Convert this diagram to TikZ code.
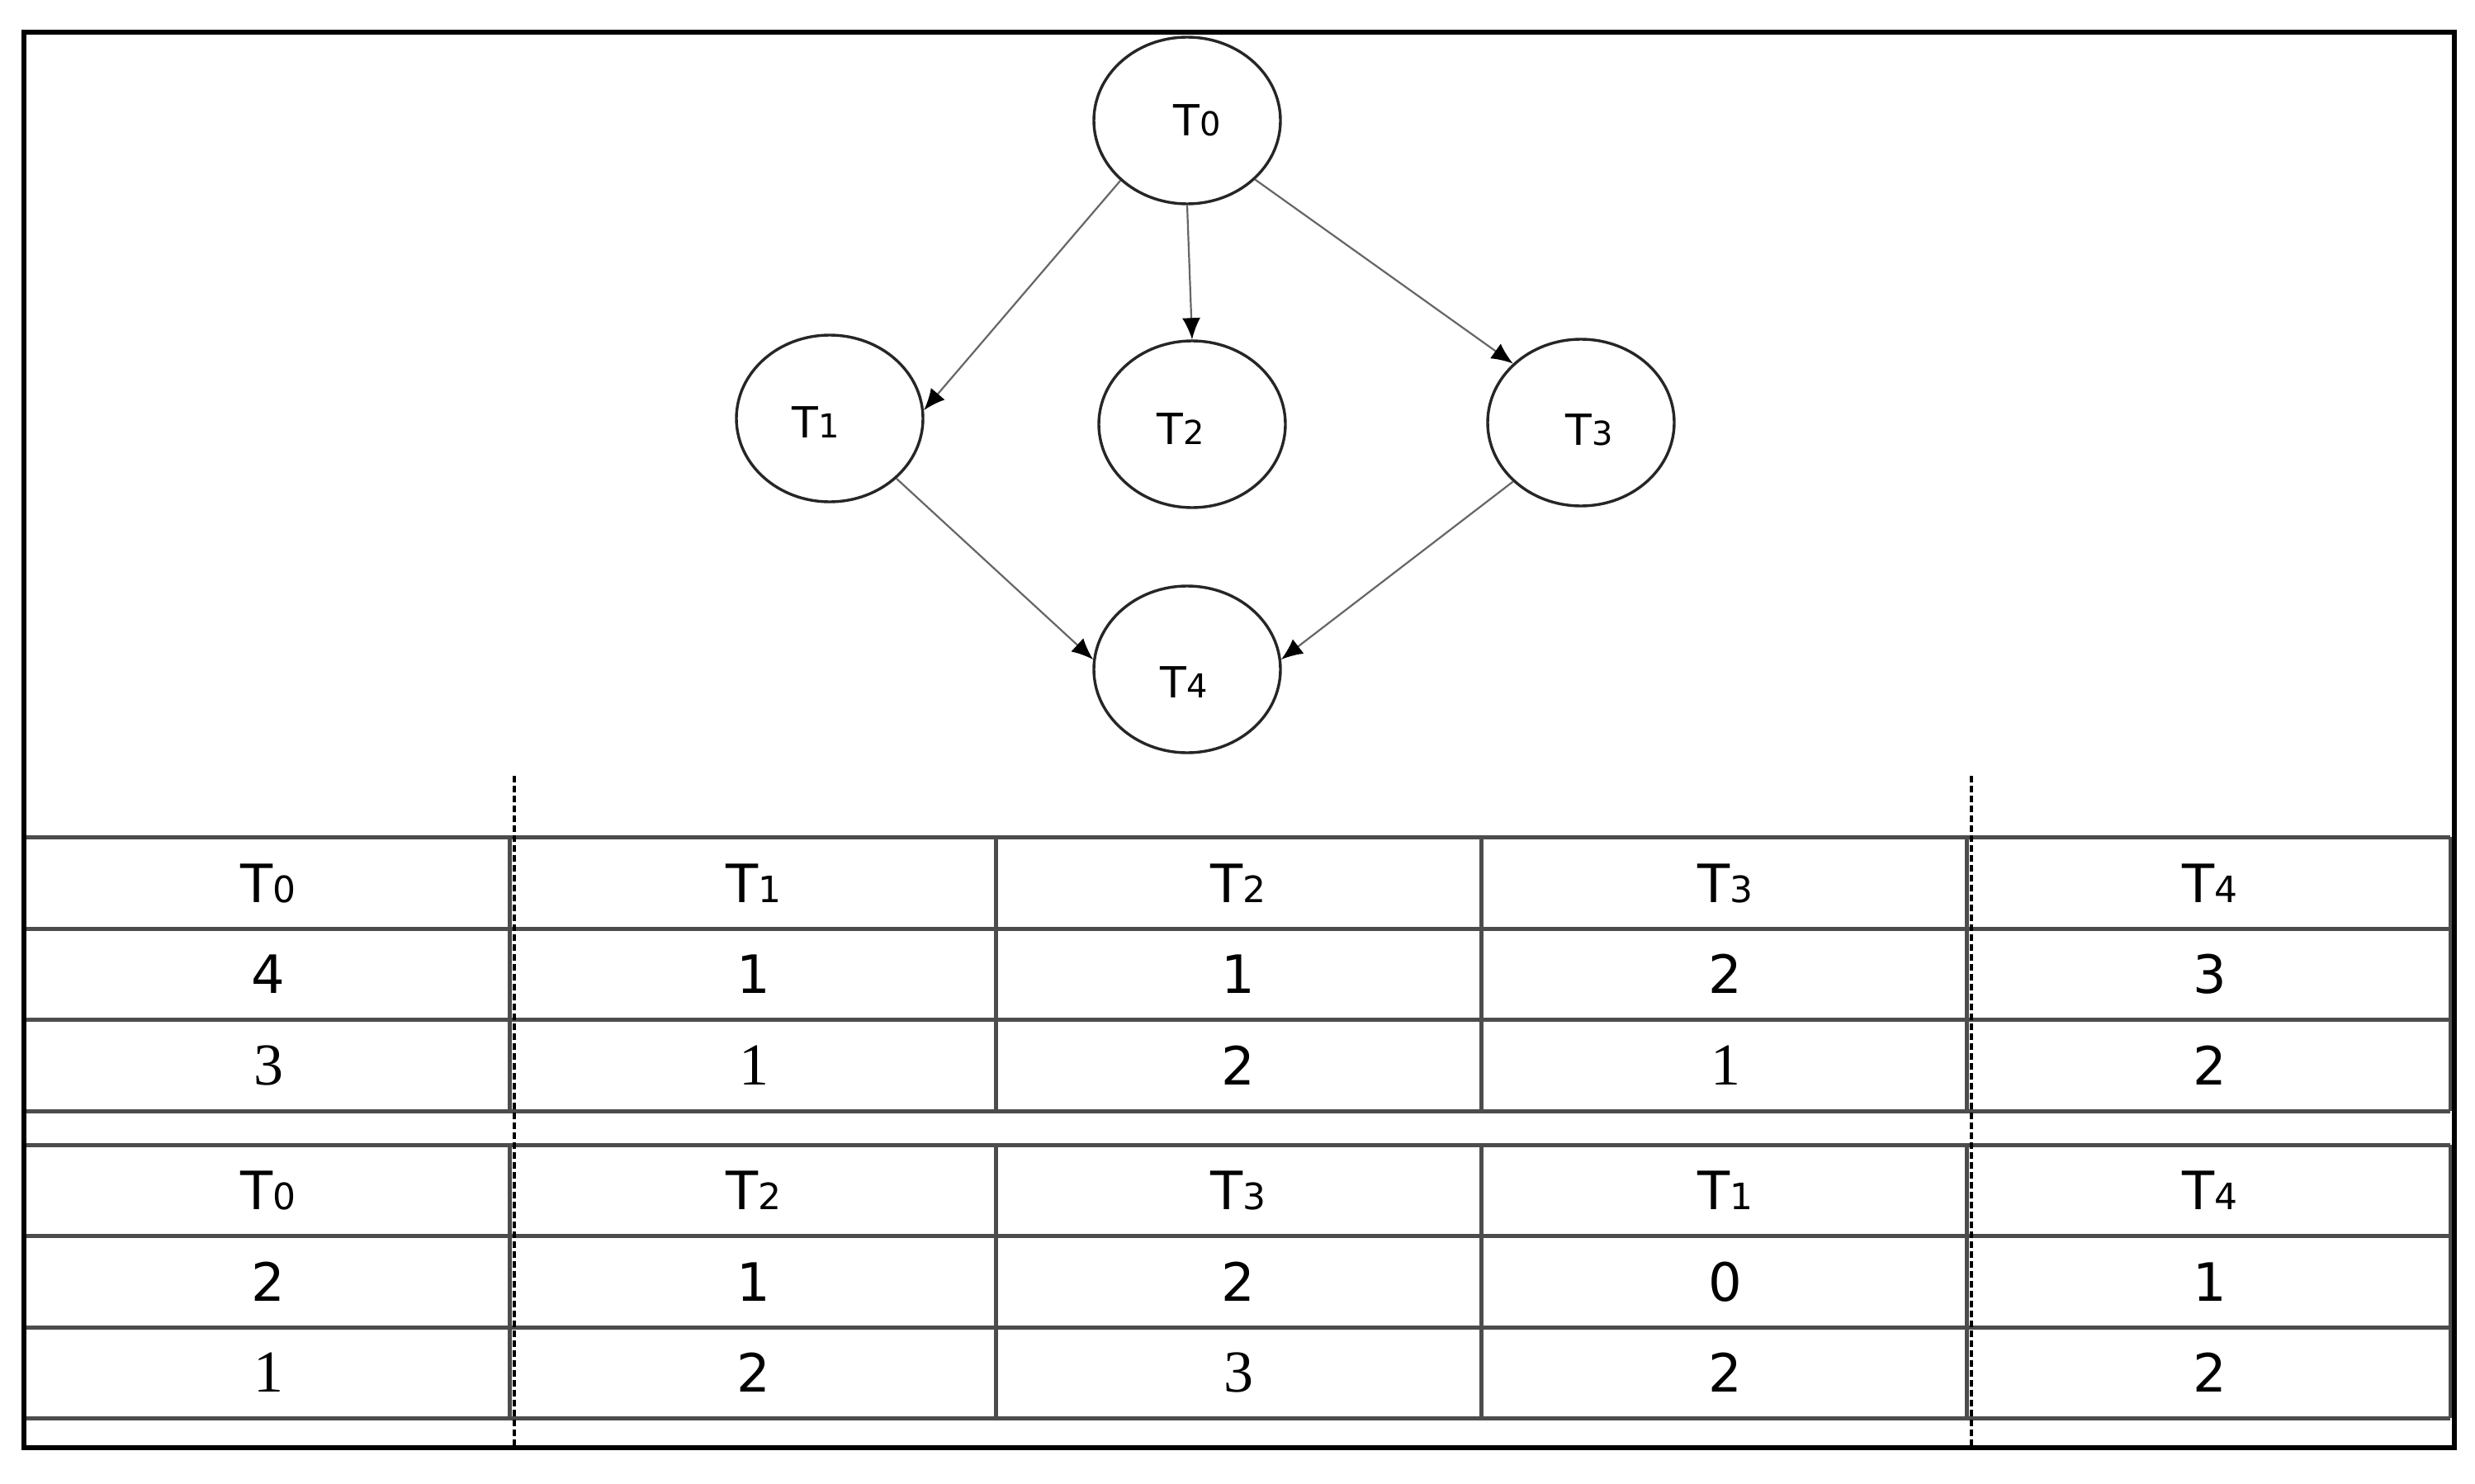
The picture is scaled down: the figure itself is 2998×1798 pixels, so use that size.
\documentclass[tikz,border=0pt]{standalone}
\usepackage{fontspec}
\setmainfont{DejaVu Sans}
\newfontfamily\serifdig{Liberation Serif}
\usetikzlibrary{arrows.meta,calc,shapes.geometric}
\newcommand{\tlab}[1]{T{\fontsize{11pt}{11pt}\selectfont #1}}
\newcommand{\clab}[1]{T{\fontsize{10pt}{10pt}\selectfont #1}}
\begin{document}
\begin{tikzpicture}[x=0.25pt,y=-0.25pt,
  task/.style={ellipse,draw=black!85,line width=0.85pt,minimum width=56.5pt,minimum height=50.5pt,inner sep=0pt},
  clabel/.style={inner sep=0pt,font=\fontsize{13pt}{13pt}\selectfont},
  edge/.style={draw=black!60,line width=0.55pt,-{Latex[length=6.5pt,width=5.5pt,color=black]}},
  cell/.style={inner sep=0pt,font=\fontsize{16pt}{16pt}\selectfont},
  scell/.style={inner sep=0pt,font=\serifdig\fontsize{18pt}{18pt}\selectfont},
  tline/.style={draw=black!70,line width=1.25pt},
  dline/.style={draw=black,line width=1.2pt,dash pattern=on 2pt off 1pt},
  frame/.style={draw=black,line width=1.6pt}]
\useasboundingbox[fill=white] (0,0) rectangle (2998,1798);

% graph
\node[task] (t0) at (1438,146) {};
\node[task] (t1) at (1005,507) {};
\node[task] (t2) at (1444,514) {};
\node[task] (t3) at (1915,512) {};
\node[task] (t4) at (1438,811) {};
\node[clabel] (l0) at ($(t0)+(12,0)$) {\clab{0}};
\node[clabel] (l1) at ($(t1)+(-17,5)$) {\clab{1}};
\node[clabel] (l2) at ($(t2)+(-14,6)$) {\clab{2}};
\node[clabel] (l3) at ($(t3)+(10,9)$) {\clab{3}};
\node[clabel] (l4) at ($(t4)+(-4,16)$) {\clab{4}};
\draw[edge] (t0.222) -- (t1.5);
\draw[edge] (t0.south) -- (t2.north);
\draw[edge] (t0.319) -- (t3.139);
\draw[edge] (t1.318) -- (t4.174);
\draw[edge] (t3.221) -- (t4.6);

% table lines
\foreach \y in {1014,1125,1235,1346,1387,1497,1608,1718}
  \draw[tline] (29,\y) -- (2968,\y);
\foreach \x in {617,1206,1794,2382,2968} {
  \draw[tline] (\x,1014) -- (\x,1346);
  \draw[tline] (\x,1387) -- (\x,1718);
}
\draw[dline] (623,940) -- (623,1753);
\draw[dline] (2388,940) -- (2388,1753);

% table 1
\node[cell] (a01) at (325,1070) {\tlab{0}};
\node[cell] (a02) at (913,1070) {\tlab{1}};
\node[cell] (a03) at (1500,1070) {\tlab{2}};
\node[cell] (a04) at (2090,1070) {\tlab{3}};
\node[cell] (a05) at (2677,1070) {\tlab{4}};
\node[cell] (a11) at (325,1180) {4};
\node[cell] (a12) at (913,1180) {1};
\node[cell] (a13) at (1500,1180) {1};
\node[cell] (a14) at (2090,1180) {2};
\node[cell] (a15) at (2677,1180) {3};
\node[scell] (a21) at (325,1291) {3};
\node[scell] (a22) at (913,1291) {1};
\node[cell] (a23) at (1500,1291) {2};
\node[scell] (a24) at (2090,1291) {1};
\node[cell] (a25) at (2677,1291) {2};

% table 2
\node[cell] (b01) at (325,1442) {\tlab{0}};
\node[cell] (b02) at (913,1442) {\tlab{2}};
\node[cell] (b03) at (1500,1442) {\tlab{3}};
\node[cell] (b04) at (2090,1442) {\tlab{1}};
\node[cell] (b05) at (2677,1442) {\tlab{4}};
\node[cell] (b11) at (325,1553) {2};
\node[cell] (b12) at (913,1553) {1};
\node[cell] (b13) at (1500,1553) {2};
\node[cell] (b14) at (2090,1553) {0};
\node[cell] (b15) at (2677,1553) {1};
\node[scell] (b21) at (325,1663) {1};
\node[cell] (b22) at (913,1663) {2};
\node[scell] (b23) at (1500,1663) {3};
\node[cell] (b24) at (2090,1663) {2};
\node[cell] (b25) at (2677,1663) {2};

% frame
\draw[frame] (29,39) rectangle (2973,1754);
\end{tikzpicture}
\end{document}
